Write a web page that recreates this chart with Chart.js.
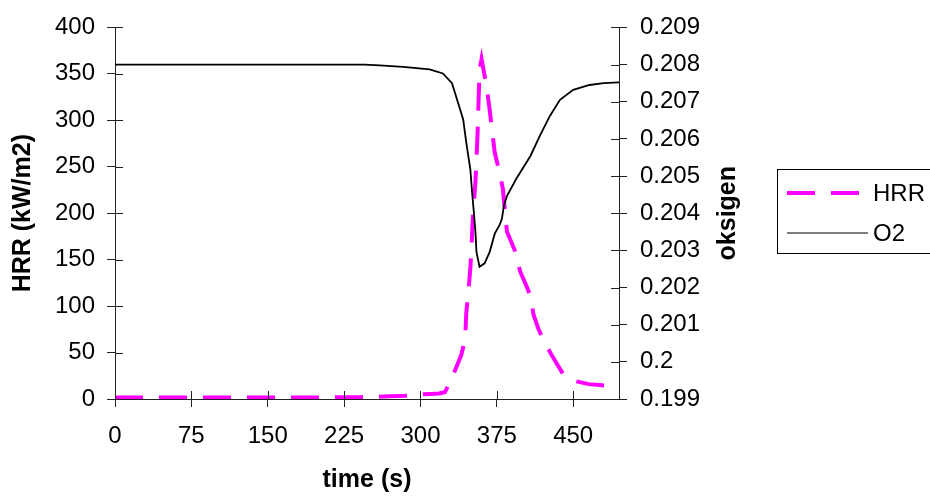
<!DOCTYPE html>
<html>
<head>
<meta charset="utf-8">
<title>HRR dan oksigen</title>
<script src="https://cdn.jsdelivr.net/npm/chart.js@4.4.1/dist/chart.umd.min.js"></script>
<style>
  body { margin: 0; background: #fff; }
  canvas { display: block; }
</style>
</head>
<body>
<canvas id="hrrChart" width="930" height="501"></canvas>
<script>
// heat release rate (kW/m2) against time (s)
var hrrTime  = [0, 30, 60, 90, 120, 150, 180, 210, 240, 257, 270, 285, 298, 310, 318, 324, 330, 334, 340, 344, 345, 347, 349, 350, 351, 352, 354, 356, 357, 358, 360, 365, 368, 370, 373, 377, 381, 383, 385, 393, 398, 404, 408, 411, 416, 421, 429, 435, 440, 447, 453, 465, 476, 486, 495];
var hrrValue = [1.5, 1.5, 1.5, 1.5, 1.5, 1.5, 1.5, 1.8, 2, 2.4, 3, 3.5, 5, 5.5, 6, 7.4, 20, 31, 47, 65, 93, 114, 141, 159, 185, 205, 233, 283, 318, 354, 366, 336, 311, 292, 265, 247, 226, 201, 180, 159, 137, 122, 111, 91, 75, 63, 47, 36, 27, 22, 19, 16, 15, 14, 13];

// oxygen fraction against time (s)
var o2Time  = [0, 120, 245, 260, 283, 309, 322, 331, 336, 342, 345, 349, 351, 353, 354, 355, 358, 363, 368, 373, 378, 380, 382, 385, 394, 408, 417, 427, 437, 450, 466, 480, 495];
var o2Value = [0.20800, 0.20800, 0.20800, 0.20798, 0.20794, 0.20787, 0.20776, 0.20750, 0.20705, 0.20652, 0.20590, 0.20518, 0.20447, 0.20385, 0.20349, 0.20296, 0.20256, 0.20265, 0.20296, 0.20345, 0.20370, 0.20385, 0.20421, 0.20447, 0.20492, 0.20554, 0.20607, 0.20661, 0.20705, 0.20732, 0.20745, 0.20750, 0.20752];

var timeTicks = [0, 75, 150, 225, 300, 375, 450];
var hrrTicks = [0, 50, 100, 150, 200, 250, 300, 350, 400];
var o2Ticks = [0.199, 0.2, 0.201, 0.202, 0.203, 0.204, 0.205, 0.206, 0.207, 0.208, 0.209];

var axisColor = '#222';
var fontName = '"Liberation Sans", Arial, sans-serif';
var hrrColor = '#ff00ff';

function toPoints(xs, ys) {
    var pts = [];
    for (var i = 0; i < xs.length; i++) {
        pts.push({x: xs[i], y: ys[i]});
    }
    return pts;
}

function fixTicks(values) {
    return function(scale) {
        scale.ticks = values.map(function(v) { return {value: v}; });
    };
}

// Excel style tick marks cross the axis, so draw the inner half here
var innerTicks = {
    id: 'innerTicks',
    afterDatasetsDraw: function(chart) {
        var ctx = chart.ctx;
        var a = chart.chartArea;
        var len = 8;
        ctx.save();
        ctx.strokeStyle = axisColor;
        ctx.lineWidth = 1;
        ctx.beginPath();
        chart.scales.x.ticks.forEach(function(t) {
            var px = Math.round(chart.scales.x.getPixelForValue(t.value)) + 0.5;
            ctx.moveTo(px, a.bottom);
            ctx.lineTo(px, a.bottom - len);
        });
        chart.scales.y.ticks.forEach(function(t) {
            var py = Math.round(chart.scales.y.getPixelForValue(t.value)) + 0.5;
            ctx.moveTo(a.left, py);
            ctx.lineTo(a.left + len, py);
        });
        chart.scales.y1.ticks.forEach(function(t) {
            var py = Math.round(chart.scales.y1.getPixelForValue(t.value)) + 0.5;
            ctx.moveTo(a.right, py);
            ctx.lineTo(a.right - len, py);
        });
        ctx.stroke();
        ctx.restore();
    }
};

// right axis title reads bottom-to-top, and the boxed legend sits beside it
var sideDecor = {
    id: 'sideDecor',
    afterDraw: function(chart) {
        var ctx = chart.ctx;
        var a = chart.chartArea;
        var ds = chart.data.datasets;
        ctx.save();

        ctx.fillStyle = '#000';
        ctx.font = 'bold 25px ' + fontName;
        ctx.textAlign = 'center';
        ctx.textBaseline = 'middle';
        ctx.translate(a.right + 109, (a.top + a.bottom) / 2);
        ctx.rotate(-Math.PI / 2);
        ctx.fillText('oksigen', 0, 0);
        ctx.setTransform(1, 0, 0, 1, 0, 0);

        var bx = 777.5, by = 169.5, bw = 170, bh = 84;
        ctx.strokeStyle = '#000';
        ctx.lineWidth = 1;
        ctx.strokeRect(bx, by, bw, bh);

        ctx.font = '24px ' + fontName;
        ctx.textAlign = 'left';
        var rows = [193, 233];
        ds.forEach(function(d, i) {
            ctx.save();
            ctx.strokeStyle = d.borderColor;
            ctx.lineWidth = i === 0 ? d.borderWidth : 1;
            ctx.setLineDash(d.borderDash || []);
            ctx.beginPath();
            ctx.moveTo(787, rows[i]);
            ctx.lineTo(i === 0 ? 860 : 868, rows[i]);
            ctx.stroke();
            ctx.restore();
            ctx.fillStyle = '#000';
            ctx.fillText(d.label, 873, rows[i] + 1);
        });
        ctx.restore();
    }
};

var ctx = document.getElementById('hrrChart');

var chart = new Chart(ctx, {
    type: 'line',
    data: {
        datasets: [{
            label: 'HRR',
            data: toPoints(hrrTime, hrrValue),
            yAxisID: 'y',
            borderColor: hrrColor,
            borderWidth: 4,
            borderDash: [28, 16],
            borderCapStyle: 'butt',
            pointRadius: 0,
            tension: 0,
            order: 1
        }, {
            label: 'O2',
            data: toPoints(o2Time, o2Value),
            yAxisID: 'y1',
            borderColor: '#000',
            borderWidth: 1.8,
            pointRadius: 0,
            tension: 0,
            order: 0
        }]
    },
    options: {
        responsive: false,
        animation: false,
        layout: {
            padding: {top: 24, right: 191, bottom: 0, left: 0}
        },
        plugins: {
            legend: {display: false},
            tooltip: {enabled: false}
        },
        scales: {
            x: {
                type: 'linear',
                min: 0,
                max: 495,
                afterBuildTicks: fixTicks(timeTicks),
                afterFit: function(scale) { scale.height = 102; },
                border: {display: true, color: axisColor, width: 1},
                grid: {drawOnChartArea: false, drawTicks: true, tickLength: 8, color: axisColor},
                ticks: {color: '#000', font: {family: fontName, size: 24}, padding: 15, maxRotation: 0},
                title: {display: true, text: 'time (s)', color: '#000', font: {family: fontName, size: 25, weight: 'bold'}, padding: {top: 0, bottom: 6}}
            },
            y: {
                position: 'left',
                min: 0,
                max: 400,
                afterBuildTicks: fixTicks(hrrTicks),
                afterFit: function(scale) { scale.width = 115; },
                border: {display: true, color: axisColor, width: 1},
                grid: {drawOnChartArea: false, drawTicks: true, tickLength: 8, color: axisColor},
                ticks: {color: '#000', font: {family: fontName, size: 24}, padding: 12},
                title: {display: true, text: 'HRR (kW/m2)', color: '#000', font: {family: fontName, size: 25, weight: 'bold'}, padding: {top: 8, bottom: 0}}
            },
            y1: {
                position: 'right',
                min: 0.199,
                max: 0.209,
                afterBuildTicks: fixTicks(o2Ticks),
                afterFit: function(scale) { scale.width = 120; },
                border: {display: true, color: axisColor, width: 1},
                grid: {drawOnChartArea: false, drawTicks: true, tickLength: 8, color: axisColor},
                ticks: {
                    color: '#000',
                    font: {family: fontName, size: 24},
                    padding: 13,
                    callback: function(v) { return String(v); }
                }
            }
        }
    },
    plugins: [innerTicks, sideDecor]
});
</script>
</body>
</html>
